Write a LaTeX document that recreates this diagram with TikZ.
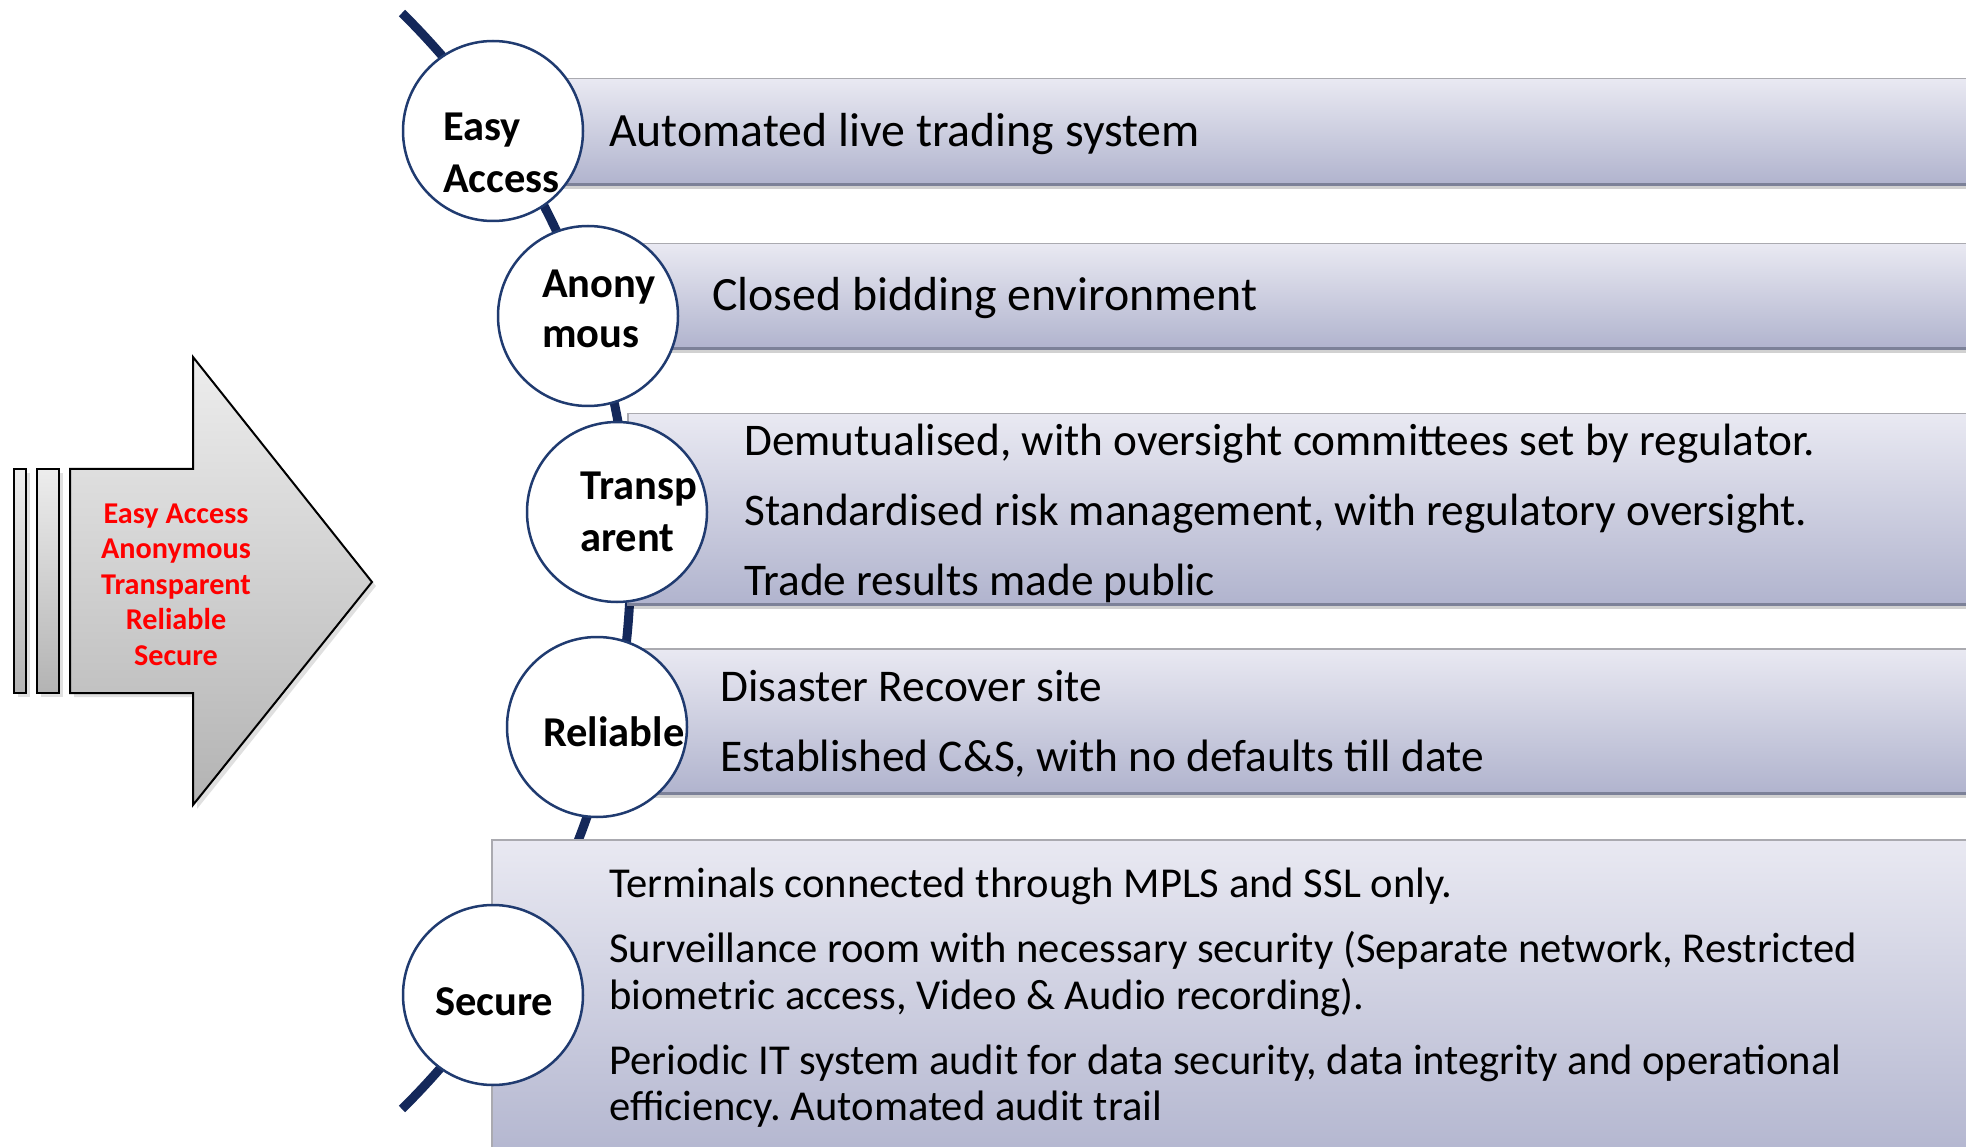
\documentclass[tikz,border=0pt]{standalone}
\usepackage{fontspec}
\setmainfont{Carlito}
\frenchspacing

\definecolor{navy}{HTML}{14285A}
\definecolor{ringblue}{HTML}{203B70}
\definecolor{bartop}{HTML}{E9E9F2}
\definecolor{barbot}{HTML}{B1B4CE}
\definecolor{barlow}{HTML}{7C8198}
\definecolor{baredge}{HTML}{AAAAB0}
\definecolor{arrowtop}{HTML}{EDEDED}
\definecolor{arrowbot}{HTML}{B3B3B3}
\definecolor{keyred}{HTML}{FF0000}

\tikzset{
  bar/.style={rectangle, inner sep=0pt, anchor=north west,
    top color=bartop, bottom color=barbot, draw=baredge, line width=1.5pt},
  barshadow/.style={fill=black, opacity=0.18},
  barlowline/.style={draw=barlow, line width=2.5pt},
  ring/.style={circle, minimum size=180pt, inner sep=0pt,
    draw=ringblue, line width=2.5pt, fill=white},
  lbl/.style={anchor=base west, inner sep=0pt,
    font=\bfseries\fontsize{42.5}{50}\selectfont},
  txtA/.style={anchor=base west, inner sep=0pt, font=\fontsize{47.8}{57}\selectfont},
  txtB/.style={anchor=base west, inner sep=0pt, font=\fontsize{45.3}{54}\selectfont},
  txtC/.style={anchor=base west, inner sep=0pt, font=\fontsize{45.4}{54}\selectfont},
  txtD/.style={anchor=base west, inner sep=0pt, font=\fontsize{42.6}{47}\selectfont},
  redtxt/.style={anchor=base, inner sep=0pt, text=keyred,
    font=\bfseries\fontsize{30.2}{35.5}\selectfont},
  grey shape/.style={top color=arrowtop, bottom color=arrowbot,
    draw=black, line width=2pt},
}

\begin{document}
\begin{tikzpicture}[x=1pt, y=-1pt]
\clip (0,0) rectangle (1966,1147);
\fill[white] (0,0) rectangle (1966,1147);

% --- left block arrow with two stripes ---
\fill[black, opacity=0.12] (18,473) rectangle (30,697);
\fill[black, opacity=0.12] (41,473) rectangle (63,697);
\fill[black, opacity=0.12] (74,473) -- (197,473) -- (197,361) -- (376,586)
  -- (197,809) -- (197,697) -- (74,697) -- cycle;
\path[grey shape] (14,469) rectangle (26,693);
\path[grey shape] (37,469) rectangle (59,693);
\path[grey shape] (70,469) -- (193,469) -- (193,357) -- (372,582)
  -- (193,805) -- (193,693) -- (70,693) -- cycle;

\foreach \word [count=\i] in {Easy Access, Anonymous, Transparent, Reliable, Secure}
  \node[redtxt] (key\i) at (176, {523+35.5*(\i-1)}) {\word};

% --- curved spine ---
\coordinate (spineTop) at (402,13);
\draw[navy, line width=9pt] (spineTop) arc[start angle=-45.3, end angle=45.3, radius=771];

% --- horizontal bars (shadow, body, lower edge) ---
\fill[barshadow] (493,183) rectangle (1990,189);
\node[bar, minimum width=1497pt, minimum height=105pt] (b1) at (493,78) {};
\draw[barlowline] (b1.south west) -- (b1.south east);

\fill[barshadow] (588,347) rectangle (1990,353);
\node[bar, minimum width=1402pt, minimum height=104pt] (b2) at (588,243) {};
\draw[barlowline] (b2.south west) -- (b2.south east);

\fill[barshadow] (627,603) rectangle (1990,609);
\node[bar, minimum width=1363pt, minimum height=190pt] (b3) at (627,413) {};
\draw[barlowline] (b3.south west) -- (b3.south east);

\fill[barshadow] (597,792) rectangle (1990,798);
\node[bar, minimum width=1393pt, minimum height=144pt] (b4) at (597,648) {};
\draw[barlowline] (b4.south west) -- (b4.south east);

\node[bar, minimum width=1499pt, minimum height=330pt] (b5) at (491,839) {};

% --- circles on the spine ---
\node[ring] (c1) at (493,131) {};
\node[ring] (c2) at (588,316) {};
\node[ring] (c3) at (617,512) {};
\node[ring] (c4) at (597,727) {};
\node[ring] (c5) at (493,995) {};

\node[lbl] (l1a) at (443,141) {Easy};
\node[lbl] (l1b) at (443,193) {Access};
\node[lbl] (l2a) at (542,298) {Anony};
\node[lbl] (l2b) at (542,348) {mous};
\node[lbl] (l3a) at (580,500) {Transp};
\node[lbl] (l3b) at (580,551) {arent};
\node[lbl] (l4) at (543,746) {Reliable};
\node[lbl] (l5) at (435,1015) {Secure};

% --- bar texts ---
\node[txtA] (t1) at (609,147) {Automated live trading system};
\node[txtA] (t2) at (712,311) {Closed bidding environment};

\node[txtB] (t3a) at (744,456) {Demutualised, with oversight committees set by regulator.};
\node[txtB] (t3b) at (744,525) {Standardised risk management, with regulatory oversight.};
\node[txtB] (t3c) at (744,595) {Trade results made public};

\node[txtC] (t4a) at (720,701) {Disaster Recover site};
\node[txtC] (t4b) at (720,771) {Established C\&S, with no defaults till date};

\node[txtD] (t5a) at (609,897) {Terminals connected through MPLS and SSL only.};
\node[txtD] (t5b) at (609,962) {Surveillance room with necessary security (Separate network, Restricted};
\node[txtD] (t5c) at (609,1009) {biometric access, Video \& Audio recording).};
\node[txtD] (t5d) at (609,1074) {Periodic IT system audit for data security, data integrity and operational};
\node[txtD] (t5e) at (609,1120) {efficiency. Automated audit trail};
\end{tikzpicture}
\end{document}
